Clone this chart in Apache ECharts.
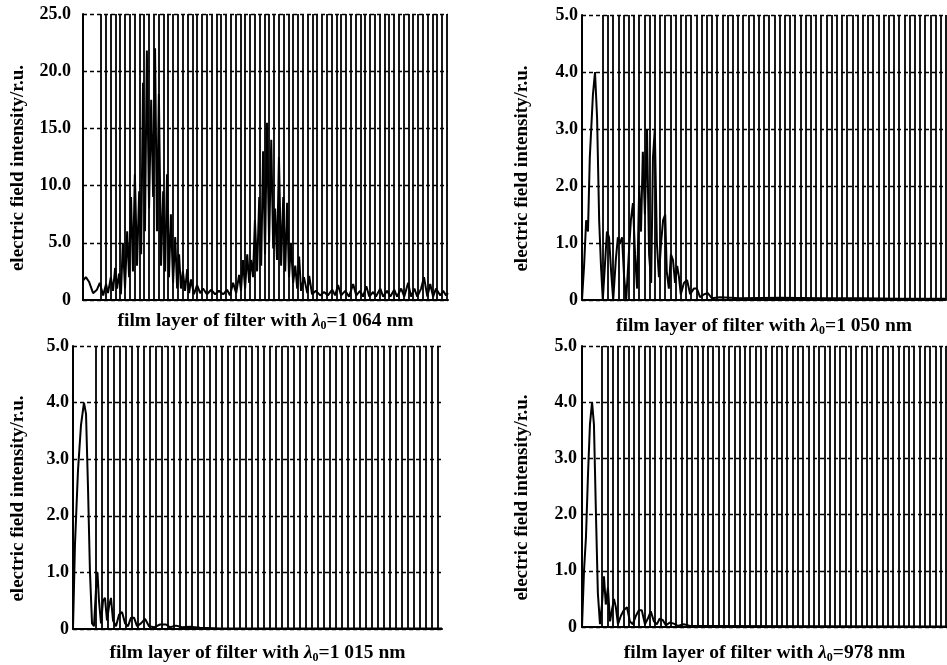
<!DOCTYPE html>
<html>
<head>
<meta charset="utf-8">
<script src="https://cdn.jsdelivr.net/npm/echarts@6/dist/echarts.min.js"></script>
<style>
  html, body { margin: 0; padding: 0; background: #fff; }
  #chart { width: 947px; height: 665px; }
</style>
</head>
<body>
<div id="chart"></div>
<script>
// four filters, one panel each
const lambdaLabels = ['1 064', '1 050', '1 015', '978'];
const yMax = [25, 5, 5, 5];
const yStep = [5, 1, 1, 1];
const xMax = [76, 70, 61.5, 69];
// position of first layer boundary and number of layer boundaries
const firstBoundary = [3.75, 4, 3.8, 3.8];
const boundaryCount = [73, 67, 58, 66];

// electric field curves, x in layer units
const depth1064 = [0,0.6,1.25,2.1,2.9,3.5,4.2,4.8,5.2,5.8,6.25,6.7,7.1,7.5,7.9,8.3,8.75,9.2,9.6,10,10.4,10.8,11.25,11.7,12.1,12.5,12.9,13.3,13.75,14.2,14.6,15,15.4,15.8,16.25,16.7,17.1,17.5,17.9,18.3,18.75,19.2,19.6,20,20.4,20.8,21.25,21.7,22.1,22.5,23.1,23.75,24.4,25,25.8,26.7,27.5,28.3,29.2,30,30.6,31.25,31.9,32.5,32.9,33.3,33.75,34.2,34.6,35,35.4,35.8,36.25,36.7,37.1,37.5,37.9,38.3,38.75,39.2,39.6,40,40.4,40.8,41.25,41.7,42.1,42.5,42.9,43.3,43.75,44.2,44.6,45,45.4,46,46.7,47.1,47.7,48.5,49.4,50.2,51,51.9,52.5,53.1,53.75,54.6,55.4,56.25,56.9,57.7,58.3,59,59.6,60.4,61,61.9,62.5,63.3,64,64.8,65.4,66.25,66.9,67.7,68.3,69,69.6,70.4,71,71.7,72.3,72.9,73.5,74.4,75,75.6,76];
const field1064 = [1.7,2.0,1.6,0.6,0.9,1.5,0.4,1.4,0.6,2.0,0.8,2.8,1.0,2.3,0.5,5.0,1.0,6.0,2.0,9.0,2.5,11.0,3.0,9.5,4.0,19.0,6.0,21.8,8.0,17.5,9.0,22.0,6.0,18.0,3.0,9.5,2.5,11.0,2.0,7.5,1.5,5.5,1.0,4.0,1.0,2.5,0.8,2.7,0.6,1.8,0.5,1.3,0.6,1.0,0.5,0.9,0.5,0.8,0.5,0.9,0.4,1.5,0.6,2.2,0.8,3.5,1.0,4.0,1.5,3.5,2.0,7.0,2.5,9.0,3.0,13.0,4.0,15.5,5.0,14.0,4.5,8.0,3.5,12.5,3.0,9.0,2.5,8.5,2.0,5.0,1.5,3.0,1.0,3.8,0.8,2.0,0.6,2.1,0.5,0.8,0.4,0.7,0.4,0.9,0.4,1.3,0.4,0.8,0.3,1.4,0.4,0.8,0.3,1.2,0.3,0.7,0.3,1.0,0.3,0.8,0.3,0.9,0.3,1.0,0.3,1.5,0.3,1.0,0.3,1.0,2.0,0.3,1.4,0.3,1.0,0.4,0.8,0.4,0.6];

const depth1050 = [0,0.4,0.8,1.15,1.5,2.1,2.5,2.9,3.3,3.65,4.0,4.4,4.8,5.2,5.6,6.0,6.5,6.9,7.3,7.7,8.1,8.5,9.0,9.4,9.8,10.2,10.6,11.0,11.35,11.7,12.1,12.5,12.9,13.3,13.65,14.0,14.4,14.8,15.2,15.6,16.0,16.3,16.7,17.1,17.5,17.9,18.3,18.65,19.0,19.6,20.2,20.8,21.5,22.1,22.7,23.5,24.2,25.0,26.5,30.4,38.1,45.8,53.5,61.2,70];
const field1050 = [0,0.6,1.4,1.2,2.5,3.6,4.0,3.2,1.4,0.6,0,0.6,1.2,1.1,0.5,0,0.7,1.1,1.0,1.1,0.4,0,0.8,1.4,1.7,0.8,0.2,2.0,1.2,2.6,1.5,3.0,0.8,0.3,2.5,3.0,1.0,0.4,1.0,1.4,1.5,0.5,0.2,0.8,0.7,0.3,0.6,0.4,0.1,0.3,0.35,0.1,0.2,0.2,0.05,0.1,0.12,0.03,0.05,0.03,0.04,0.03,0.03,0.02,0.02];

const depth1015 = [0,0.33,0.83,1.33,1.83,2.17,2.5,2.83,3.17,3.5,3.83,4.08,4.33,4.67,5.0,5.33,5.67,6.0,6.33,6.67,7.17,7.67,8.17,8.67,9.17,9.67,10.17,10.67,11.33,12.0,12.67,13.5,14.5,15.5,16.17,17.17,18.17,19.5,21.17,24.5,61.5];
const field1015 = [0,1.5,2.8,3.6,4.0,3.8,2.5,1.0,0.1,0.05,0.7,1.0,0.5,0.1,0.5,0.55,0.15,0.4,0.55,0.15,0.05,0.25,0.3,0.1,0.05,0.2,0.2,0.05,0.1,0.18,0.05,0.03,0.08,0.08,0.03,0.06,0.03,0.04,0.02,0.01,0.01];

const depth978 = [0,0.38,0.75,1.13,1.5,1.9,2.26,2.64,3.0,3.4,3.77,4.15,4.5,4.9,5.3,5.66,6.04,6.4,6.8,7.36,7.9,8.5,9.06,9.6,10.2,10.75,11.3,11.9,12.45,13.0,13.6,14.15,14.7,15.3,15.85,16.6,17.35,18.1,19.25,20.4,22.3,69];
const field978 = [0,1.0,1.6,2.7,3.6,4.0,3.6,2.0,0.6,0.05,0.4,0.9,0.4,0.7,0.1,0.3,0.5,0.35,0.05,0.2,0.3,0.35,0.1,0.05,0.2,0.3,0.3,0.05,0.15,0.28,0.1,0.05,0.15,0.12,0.03,0.08,0.06,0.02,0.05,0.02,0.02,0.01];

const depths = [depth1064, depth1050, depth1015, depth978];
const fields = [field1064, field1050, field1015, field978];

const gridBoxes = [
  {left: 83, top: 14, width: 365, height: 286},
  {left: 582, top: 15, width: 364, height: 285},
  {left: 73, top: 346, width: 369, height: 283},
  {left: 582, top: 346, width: 366, height: 284}
];
const labelMargin = [12, 4, 4, 5];
const yNameGap = [55, 50, 45, 50];
const xNameGap = [10, 15, 13, 15];

const serif = '"Liberation Serif", "DejaVu Serif", serif';

const chart = echarts.init(document.getElementById('chart'), null, {renderer: 'canvas'});

const grid = [], xAxis = [], yAxis = [], series = [];
for (let i = 0; i < 4; i++) {
  grid.push(Object.assign({containLabel: false}, gridBoxes[i]));
  xAxis.push({
    type: 'value', gridIndex: i, min: 0, max: xMax[i],
    name: '{t|film layer of filter with }{g|λ}{s|0}{t|=' + lambdaLabels[i] + ' nm}',
    nameLocation: 'middle', nameGap: xNameGap[i],
    nameTextStyle: {
      rich: {
        t: {fontFamily: serif, fontWeight: 'bold', fontSize: 19.5, color: '#000'},
        g: {fontFamily: serif, fontWeight: 'bold', fontStyle: 'italic', fontSize: 19.5, color: '#000'},
        s: {fontFamily: serif, fontWeight: 'bold', fontSize: 12, color: '#000', padding: [10, 0, 0, 0]}
      }
    },
    axisLine: {show: true, onZero: false, lineStyle: {color: '#000', width: 2}},
    axisTick: {show: false}, axisLabel: {show: false}, splitLine: {show: false}
  });
  yAxis.push({
    type: 'value', gridIndex: i, min: 0, max: yMax[i], interval: yStep[i],
    name: 'electric field intensity/r.u.',
    nameLocation: 'middle', nameGap: yNameGap[i], nameRotate: 90,
    nameTextStyle: {fontFamily: serif, fontWeight: 'bold', fontSize: 19, color: '#000', padding: [0, 22, 0, 0]},
    axisLine: {show: true, lineStyle: {color: '#000', width: 2}},
    axisTick: {show: false},
    axisLabel: {
      margin: labelMargin[i], fontFamily: serif, fontWeight: 'bold', fontSize: 18, color: '#000',
      formatter: v => v === 0 ? '0' : v.toFixed(1)
    },
    splitLine: {show: true, lineStyle: {color: '#000', width: 1.4, type: [4, 3]}}
  });

  const bounds = [];
  for (let k = 0; k < boundaryCount[i]; k++) bounds.push({xAxis: firstBoundary[i] + k});

  series.push({
    type: 'line', xAxisIndex: i, yAxisIndex: i,
    data: depths[i].map((d, j) => [d, fields[i][j]]),
    showSymbol: false, silent: true, animation: false,
    lineStyle: {color: '#000', width: 2},
    markLine: {
      silent: true, animation: false, symbol: ['none', 'none'],
      label: {show: false},
      lineStyle: {color: '#000', width: 2, type: 'solid', opacity: 0.9},
      emphasis: {disabled: true},
      data: bounds
    }
  });
}

chart.setOption({
  backgroundColor: '#fff',
  animation: false,
  grid: grid,
  xAxis: xAxis,
  yAxis: yAxis,
  series: series
});
</script>
</body>
</html>
